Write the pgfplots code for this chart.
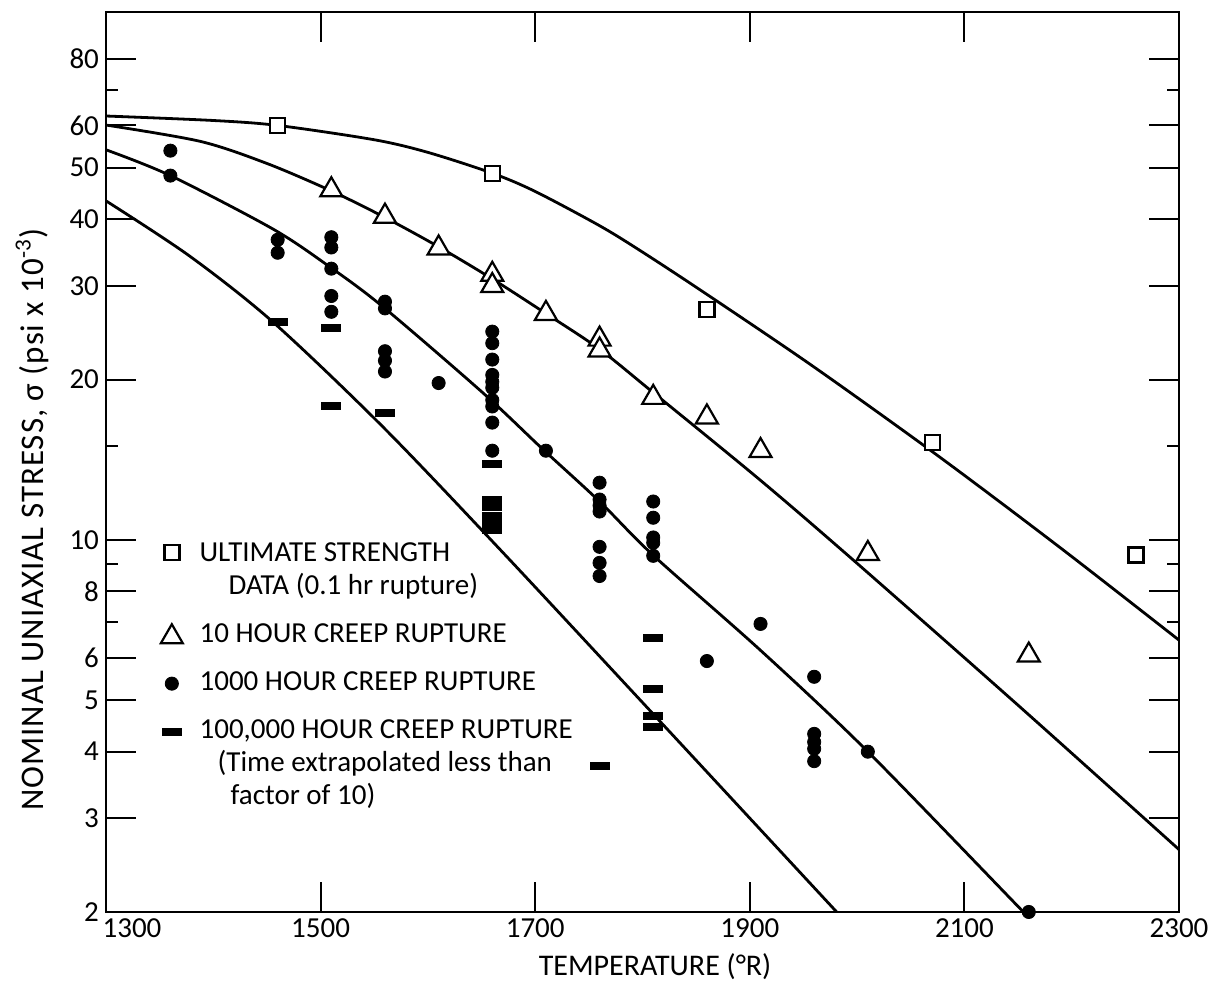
\documentclass[border=0pt]{standalone}
\usepackage{fontspec}
\setmainfont{Carlito}
\usepackage{pgfplots}
\pgfplotsset{compat=1.18}
\pgfdeclareplotmark{dash}{\pgfpathrectangle{\pgfpoint{-5pt}{-2pt}}{\pgfpoint{10pt}{4pt}}\pgfusepathqfill}
\pgfplotsset{
  legsq/.style={legend image code/.code={\draw[##1] plot coordinates {(0pt,4.67pt)};}},
  legtri/.style={legend image code/.code={\draw[##1] plot coordinates {(0pt,3.0pt)};}},
  legdot/.style={legend image code/.code={\draw[##1] plot coordinates {(0pt,3.65pt)};}},
  legdash/.style={legend image code/.code={\draw[##1] plot coordinates {(0pt,3.4pt)};}},
}
\begin{document}
\begin{tikzpicture}
\path[use as bounding box] (-53pt,-35.5pt) rectangle (558pt,456pt);
\begin{axis}[
  at={(0pt,0pt)}, anchor=south west,
  scale only axis, width=536.5pt, height=450pt,
  xmin=1300, xmax=2300, ymode=log, ymin=2, ymax=98,
  xtick={1300,1500,1700,1900,2100,2300},
  xticklabels={\hspace*{26pt}1300,1500,1700,1900,2100,2300},
  ytick={2,3,4,5,6,8,10,20,30,40,50,60,80},
  yticklabels={2,3,4,5,6,8,10,20,30,40,50,60,80},
  minor ytick={7,9,15,70},
  tick align=inside,
  major tick length=15pt, minor tick length=6pt,
  every tick/.style={black, line width=1pt},
  axis line style={line width=1.2pt},
  tick label style={font=\fontsize{14.5}{17}\selectfont},
  xlabel={TEMPERATURE (°R)},
  ylabel={NOMINAL UNIAXIAL STRESS, σ (psi x 10\textsuperscript{-3})},
  xlabel style={at={(axis description cs:0.5117,-0.0611)}, anchor=center, font=\fontsize{15}{18}\selectfont},
  ylabel style={at={(axis description cs:-0.0690,0.436)}, anchor=center, font=\fontsize{16.5}{19}\selectfont\addfontfeature{LetterSpace=3}},
  legend style={at={(axis description cs:0.0511,0.4146)}, anchor=north west, draw=none, fill=none,
    inner sep=0pt, outer sep=0pt, row sep=7.5pt, column sep=8.4pt,
    font=\fontsize{14.5}{16.5}\selectfont, cells={anchor=base west}, nodes={inner sep=0pt, text depth=}},
]
% curves
\addplot[black, line width=1.4pt, smooth, forget plot] coordinates {
(1300,62.5)(1400,61.3)(1460,60.0)(1550,56.4)(1600,53.4)(1660,48.8)(1700,45.1)(1760,38.9)(1800,34.7)(1860,28.9)(1960,21.1)(2077,14.3)(2190,9.64)(2300,6.48)};
\addplot[black, line width=1.4pt, smooth, forget plot] coordinates {
(1300,60.1)(1388,56.0)(1450,50.9)(1510,45.2)(1560,40.3)(1610,35.5)(1660,30.9)(1710,26.6)(1760,22.8)(1810,18.9)(1910,12.93)(2000,9.03)(2150,4.89)(2300,2.62)};
\addplot[black, line width=1.4pt, smooth, forget plot] coordinates {
(1300,54.0)(1360,48.3)(1456,38.3)(1509,32.5)(1558,27.4)(1651,18.9)(1707,14.8)(1760,11.8)(1810,9.35)(1910,6.2)(2010,4.0)(2155,2.0)(2165,1.91)};
\addplot[black, line width=1.4pt, smooth, forget plot] coordinates {
(1300,43.3)(1378,34.1)(1456,25.6)(1558,16.3)(1667,9.6)(1804,4.85)(1981,2.0)(2000,1.82)};
% ultimate strength
\addplot[only marks, mark=square*, mark size=3.75pt, mark options={draw=black, fill=white, line width=1.2pt}, legsq] coordinates {
(1460,60.0)(1660,48.7)(1860,27.1)(2070,15.25)(2260,9.36)};
\addlegendentry{\begin{tabular}[t]{@{}l@{}}ULTIMATE STRENGTH\\\hspace*{14.5pt}DATA (0.1 hr rupture)\end{tabular}}
% 10 hour
\addplot[only marks, mark=triangle*, mark size=6.35pt, mark options={draw=black, fill=white, line width=1.1pt}, legtri] coordinates {
(1510,45.4)(1560,40.5)(1610,35.3)(1660,31.5)(1660,30.0)(1710,26.6)(1760,23.8)(1760,22.7)(1810,18.5)(1860,17.0)(1910,14.7)(2010,9.42)(2160,6.07)};
\addlegendentry{\begin{tabular}[t]{@{}l@{}}10 HOUR CREEP RUPTURE\end{tabular}}
% 1000 hour
\addplot[only marks, mark=*, mark size=3.3pt, mark options={draw=black, fill=black}, legdot] coordinates {
(1360,53.8)(1360,48.3)
(1460,36.6)(1460,34.6)
(1510,37.0)(1510,35.4)(1510,32.3)(1510,28.7)(1510,26.8)
(1560,28.0)(1560,27.2)(1560,22.6)(1560,21.7)(1560,20.7)
(1610,19.7)
(1660,24.6)(1660,23.4)(1660,21.8)(1660,20.4)(1660,19.8)(1660,19.3)(1660,18.3)(1660,17.8)(1660,16.6)(1660,14.7)
(1710,14.7)
(1760,12.8)(1760,11.9)(1760,11.6)(1760,11.3)(1760,9.7)(1760,9.05)(1760,8.55)
(1810,11.8)(1810,11.0)(1810,10.1)(1810,9.87)(1810,9.33)
(1860,5.92)(1910,6.95)
(1960,5.53)(1960,4.32)(1960,4.17)(1960,4.05)(1960,3.84)
(2010,4.0)(2160,2.0)};
\addlegendentry{\begin{tabular}[t]{@{}l@{}}1000 HOUR CREEP RUPTURE\end{tabular}}
% 100000 hour
\addplot[only marks, mark=dash, legdash] coordinates {
(1460,25.7)(1510,25.0)(1510,17.8)(1560,17.3)
(1660,13.9)(1660,11.9)(1660,11.5)(1660,11.1)(1660,10.75)(1660,10.45)
(1760,3.76)(1810,6.54)(1810,5.24)(1810,4.67)(1810,4.45)};
\addlegendentry{\begin{tabular}[t]{@{}l@{}}100,000 HOUR CREEP RUPTURE\\\hspace*{9pt}(Time extrapolated less than\\\hspace*{15.5pt}factor of 10)\end{tabular}}
\end{axis}
\end{tikzpicture}
\end{document}
